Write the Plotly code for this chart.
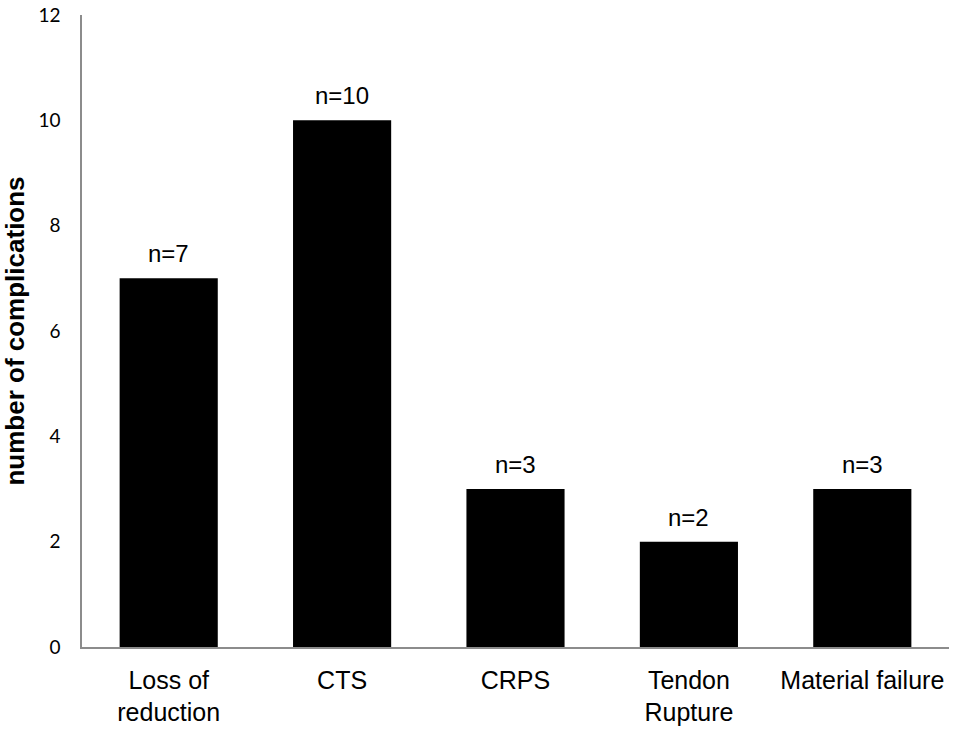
import plotly.graph_objects as go

categories = ["Loss of<br>reduction", "CTS", "CRPS", "Tendon<br>Rupture", "Material failure"]
counts = [7, 10, 3, 2, 3]
bar_labels = [f"n={c}" for c in counts]
y_ticks = [0, 2, 4, 6, 8, 10, 12]

fig = go.Figure(
    go.Bar(
        x=categories,
        y=counts,
        marker=dict(color="#000000", line=dict(width=0)),
        width=0.566,
        hoverinfo="x+y",
    )
)

for cat, val, lab in zip(categories, counts, bar_labels):
    fig.add_annotation(
        x=cat, y=val, text=lab, showarrow=False,
        yanchor="bottom", yshift=9,
        font=dict(family="Liberation Sans, Arial", size=24, color="#000000"),
    )

fig.update_layout(
    width=957,
    height=731,
    margin=dict(l=82, r=8, t=15, b=84),
    paper_bgcolor="white",
    plot_bgcolor="white",
    showlegend=False,
    font=dict(family="Liberation Sans, Arial", color="#000000"),
    xaxis=dict(
        showline=True, linecolor="#8c8c8c", linewidth=1.5,
        showgrid=False, ticks="", ticklabelstandoff=10, automargin=False,
        tickfont=dict(size=25, family="Liberation Sans, Arial"),
    ),
    yaxis=dict(
        range=[0, 12], tickvals=y_ticks,
        showline=True, linecolor="#8c8c8c", linewidth=1.5,
        showgrid=False, zeroline=False, ticks="", ticklabelstandoff=16,
        automargin=False,
        tickfont=dict(size=19, family="Lato, Liberation Sans"),
        title=dict(
            text="<b>number of complications</b>", standoff=10,
            font=dict(size=26, family="Liberation Sans, Arial"),
        ),
    ),
)

fig.write_html(
    "out.html",
    config={"displayModeBar": False},
    post_script="document.body.style.margin='0';",
)
